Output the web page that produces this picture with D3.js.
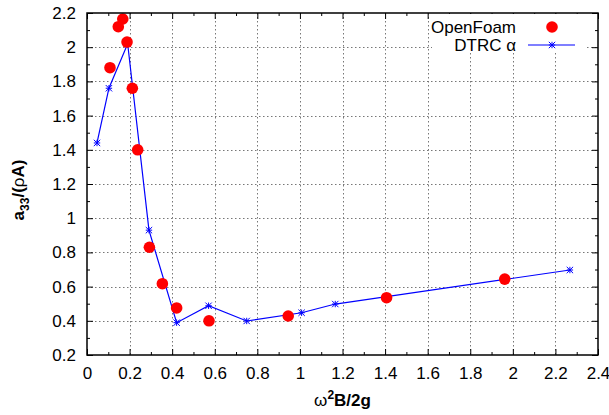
<!DOCTYPE html>
<html>
<head>
<meta charset="utf-8">
<script src="https://cdn.jsdelivr.net/npm/d3@7"></script>
<style>
  body { margin: 0; background: #fff; }
  svg { display: block; font-family: "Liberation Sans", Arial, sans-serif; }
</style>
</head>
<body>
<div id="container"></div>
<script>
// data
const openFoamX = [0.108, 0.147, 0.168, 0.188, 0.213, 0.238, 0.293, 0.354, 0.421, 0.573, 0.945, 1.407, 1.962];
const openFoamY = [1.88, 2.12, 2.165, 2.03, 1.76, 1.40, 0.83, 0.617, 0.475, 0.40, 0.428, 0.535, 0.644];
const dtrcX = [0.047, 0.103, 0.191, 0.291, 0.421, 0.571, 0.75, 1.008, 1.166, 2.268];
const dtrcY = [1.44, 1.76, 2.02, 0.93, 0.389, 0.488, 0.399, 0.447, 0.498, 0.697];
const xTicks = [0, 0.2, 0.4, 0.6, 0.8, 1, 1.2, 1.4, 1.6, 1.8, 2, 2.2, 2.4];
const yTicks = [0.2, 0.4, 0.6, 0.8, 1, 1.2, 1.4, 1.6, 1.8, 2, 2.2];
const seriesNames = ['OpenFoam', 'DTRC \u03b1'];

const width = 609, height = 415;
const pLeft = 87, pRight = 598, pTop = 13, pBottom = 355;

const svg = d3.select('#container').append('svg')
    .attr('width', width)
    .attr('height', height);

const x = d3.scaleLinear().domain([0, 2.4]).range([pLeft, pRight]);
const y = d3.scaleLinear().domain([0.2, 2.2]).range([pBottom, pTop]);
const fmt = d => String(+d.toFixed(1));

// minor ticks half way between the majors
const xMinor = d3.range(xTicks.length - 1).map(i => (xTicks[i] + xTicks[i + 1]) / 2);
const yMinor = d3.range(yTicks.length - 1).map(i => (yTicks[i] + yTicks[i + 1]) / 2);

// grid
const grid = svg.append('g')
    .attr('stroke', '#777')
    .attr('stroke-width', 1)
    .attr('stroke-dasharray', '1.5,2.5');
grid.selectAll('.gx').data(xTicks.slice(1, -1)).join('line')
    .attr('x1', d => Math.round(x(d)) + 0.5).attr('x2', d => Math.round(x(d)) + 0.5)
    .attr('y1', pTop).attr('y2', pBottom);
grid.selectAll('.gy').data(yTicks.slice(1, -1)).join('line')
    .attr('y1', d => Math.round(y(d)) + 0.5).attr('y2', d => Math.round(y(d)) + 0.5)
    .attr('x1', pLeft).attr('x2', pRight);

// axes, ticks pointing inwards and mirrored
function styleAxis(g) {
    g.select('.domain').remove();
    g.selectAll('line').attr('stroke', '#000');
    g.selectAll('text').attr('font-size', 17).attr('fill', '#000');
}
svg.append('g').attr('transform', `translate(0,${pBottom})`)
    .call(d3.axisBottom(x).tickValues(xTicks).tickFormat(fmt).tickSizeInner(-6).tickPadding(12))
    .call(styleAxis);
svg.append('g').attr('transform', `translate(0,${pBottom})`)
    .call(d3.axisBottom(x).tickValues(xMinor).tickFormat('').tickSizeInner(-3))
    .call(styleAxis);
svg.append('g').attr('transform', `translate(0,${pTop})`)
    .call(d3.axisTop(x).tickValues(xTicks).tickFormat('').tickSizeInner(-6))
    .call(styleAxis);
svg.append('g').attr('transform', `translate(0,${pTop})`)
    .call(d3.axisTop(x).tickValues(xMinor).tickFormat('').tickSizeInner(-3))
    .call(styleAxis);
svg.append('g').attr('transform', `translate(${pLeft},0)`)
    .call(d3.axisLeft(y).tickValues(yTicks).tickFormat(fmt).tickSizeInner(-6).tickPadding(11))
    .call(styleAxis);
svg.append('g').attr('transform', `translate(${pLeft},0)`)
    .call(d3.axisLeft(y).tickValues(yMinor).tickFormat('').tickSizeInner(-3))
    .call(styleAxis);
svg.append('g').attr('transform', `translate(${pRight},0)`)
    .call(d3.axisRight(y).tickValues(yTicks).tickFormat('').tickSizeInner(-6))
    .call(styleAxis);
svg.append('g').attr('transform', `translate(${pRight},0)`)
    .call(d3.axisRight(y).tickValues(yMinor).tickFormat('').tickSizeInner(-3))
    .call(styleAxis);

// asterisk marker
function star(g, cx, cy, s) {
    const p = `M${cx - s},${cy}L${cx + s},${cy}M${cx},${cy - s}L${cx},${cy + s}` +
        `M${cx - s},${cy - s}L${cx + s},${cy + s}M${cx - s},${cy + s}L${cx + s},${cy - s}`;
    g.append('path').attr('d', p).attr('stroke', '#0000ff').attr('stroke-width', 1).attr('fill', 'none');
}

// DTRC line
const dtrc = dtrcX.map((d, i) => [d, dtrcY[i]]);
svg.append('path')
    .datum(dtrc)
    .attr('d', d3.line().x(d => x(d[0])).y(d => y(d[1])))
    .attr('fill', 'none')
    .attr('stroke', '#0000ff')
    .attr('stroke-width', 1.2);
const stars = svg.append('g');
dtrc.forEach(d => star(stars, x(d[0]), y(d[1]), 3.2));

// OpenFoam points
svg.append('g').selectAll('circle')
    .data(openFoamX.map((d, i) => [d, openFoamY[i]]))
    .join('circle')
    .attr('cx', d => x(d[0]))
    .attr('cy', d => y(d[1]))
    .attr('r', 5.8)
    .attr('fill', '#ff0000');

// legend
const lg = svg.append('g');
lg.append('rect').attr('x', 432).attr('y', pTop + 1).attr('width', 154).attr('height', 38).attr('fill', '#fff');
lg.append('text').attr('x', 516).attr('y', 33).attr('text-anchor', 'end')
    .attr('font-size', 17).text(seriesNames[0]);
lg.append('circle').attr('cx', 552).attr('cy', 27).attr('r', 5.8).attr('fill', '#ff0000');
lg.append('text').attr('x', 516).attr('y', 51).attr('text-anchor', 'end')
    .attr('font-size', 17).text(seriesNames[1]);
lg.append('line').attr('x1', 528).attr('x2', 575).attr('y1', 45).attr('y2', 45)
    .attr('stroke', '#0000ff').attr('stroke-width', 1.2);
star(lg, 552, 45, 3.2);

// frame
svg.append('rect')
    .attr('x', pLeft).attr('y', pTop)
    .attr('width', pRight - pLeft).attr('height', pBottom - pTop)
    .attr('fill', 'none').attr('stroke', '#000').attr('stroke-width', 1.5);

// axis titles
const xt = svg.append('text')
    .attr('x', (pLeft + pRight) / 2).attr('y', 406)
    .attr('text-anchor', 'middle').attr('font-size', 17).attr('font-weight', 'bold');
xt.append('tspan').attr('font-weight', 'normal').text('\u03c9');
xt.append('tspan').attr('dy', -7).attr('font-size', 12).text('2');
xt.append('tspan').attr('dy', 7).text('B/2g');

const yt = svg.append('text')
    .attr('transform', `translate(24,${(pTop + pBottom) / 2 + 6}) rotate(-90)`)
    .attr('text-anchor', 'middle').attr('font-size', 17).attr('font-weight', 'bold');
yt.append('tspan').text('a');
yt.append('tspan').attr('dy', 5).attr('font-size', 12).text('33');
yt.append('tspan').attr('dy', -5).text('/(');
yt.append('tspan').attr('font-weight', 'normal').text('\u03c1');
yt.append('tspan').text('A)');
</script>
</body>
</html>
